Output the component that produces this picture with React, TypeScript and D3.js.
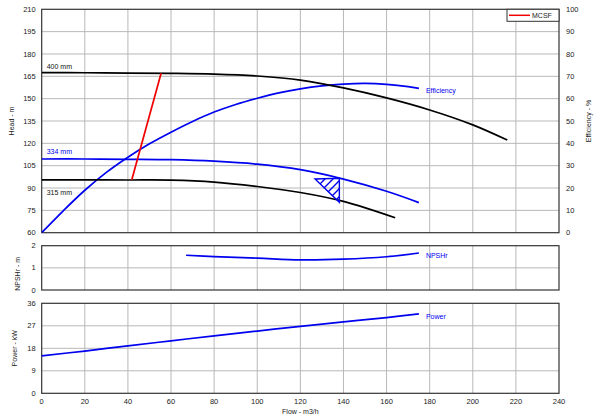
import React from "react";
import * as d3 from "d3";

// ---- Data ----
const flowTicks = [0, 20, 40, 60, 80, 100, 120, 140, 160, 180, 200, 220, 240];
const headTicks = [60, 75, 90, 105, 120, 135, 150, 165, 180, 195, 210];
const effTicks = [0, 10, 20, 30, 40, 50, 60, 70, 80, 90, 100];
const npshTicks = [0, 1, 2];
const powerTicks = [0, 9, 18, 27, 36];

const flow400 = [0, 20, 40, 60, 80, 100, 120, 140, 160, 180, 200, 216];
const head400 = [167.5, 167.4, 167.2, 167, 166.5, 165.2, 162.5, 157.2, 150.5, 142.4, 132.4, 122.2];

const flow334 = [0, 20, 40, 60, 80, 100, 120, 140, 160, 175];
const head334 = [109.5, 109.5, 109.3, 109, 108, 106, 102.3, 96, 87.8, 80.2];

const flow315 = [0, 20, 40, 60, 80, 100, 120, 140, 164];
const head315 = [95.5, 95.5, 95.4, 95.3, 94, 91, 87, 81, 70];

const flowEff = [0, 10, 20, 30, 40, 50, 60, 70, 80, 90, 100, 110, 120, 130, 140, 150, 160, 170, 175];
const effVals = [0, 9.8, 19, 27, 33.8, 39.8, 45, 49.8, 54, 57.4, 60.2, 62.6, 64.4, 65.7, 66.5, 66.8, 66.4, 65.4, 64.6];

const flowMcsf = [41.8, 55.4];
const headMcsf = [95.5, 167];

const flowTri = [126.8, 138.1, 138.1];
const headTri = [96.1, 96.5, 80.4];

const flowNpsh = [67, 80, 100, 120, 140, 160, 175];
const npshVals = [1.57, 1.51, 1.44, 1.36, 1.39, 1.5, 1.67];

const flowPower = [0, 20, 40, 60, 80, 100, 120, 140, 160, 175];
const powerVals = [15, 16.9, 19.0, 21.0, 23.0, 24.9, 26.8, 28.6, 30.3, 31.8];

// ---- Layout ----
const W = 600;
const H = 418;
const L = 41.7;
const R = 559;
const mainTop = 9.3;
const mainBot = 232.7;
const npshTop = 245.7;
const npshBot = 290;
const powTop = 303.3;
const powBot = 393.3;

const FONT = "'Liberation Sans', Arial, Helvetica, sans-serif";
const BLUE = "#0000f0";
const GRID = "#b8b8b8";
const FRAME = "#333";

export default function App() {
  const x = d3.scaleLinear().domain([0, 240]).range([L, R]);
  const yHead = d3.scaleLinear().domain([60, 210]).range([mainBot, mainTop]);
  const yEff = d3.scaleLinear().domain([0, 100]).range([mainBot, mainTop]);
  const yN = d3.scaleLinear().domain([0, 2]).range([npshBot, npshTop]);
  const yP = d3.scaleLinear().domain([0, 36]).range([powBot, powTop]);

  const mk = (fx: number[], fy: number[], ys: d3.ScaleLinear<number, number>, curve: any = d3.curveCatmullRom) =>
    d3
      .line<number>()
      .x((_, i) => x(fx[i]))
      .y((v) => ys(v))
      .curve(curve)(fy) as string;

  const triPath =
    d3
      .line<number>()
      .x((_, i) => x(flowTri[i]))
      .y((v) => yHead(v))(headTri) + "Z";

  const vGrid = (top: number, bot: number) =>
    flowTicks.slice(1, -1).map((t) => (
      <line key={"v" + t + top} x1={x(t)} x2={x(t)} y1={top} y2={bot} stroke={GRID} strokeWidth={1} />
    ));

  const hGrid = (ticks: number[], ys: d3.ScaleLinear<number, number>, k: string) =>
    ticks.slice(1, -1).map((t) => (
      <line key={k + t} x1={L} x2={R} y1={ys(t)} y2={ys(t)} stroke={GRID} strokeWidth={1} />
    ));

  const leftLabels = (ticks: number[], ys: d3.ScaleLinear<number, number>, k: string) =>
    ticks.map((t) => (
      <text key={k + t} x={L - 6} y={ys(t)} dy="0.35em" textAnchor="end" fontSize={7.5}>
        {t}
      </text>
    ));

  const frame = (top: number, bot: number) => (
    <rect x={L} y={top} width={R - L} height={bot - top} fill="none" stroke={FRAME} strokeWidth={1.2} />
  );

  const e400 = { x: x(flow400[0]), y: yHead(head400[0]) };
  const e334 = { x: x(flow334[0]), y: yHead(head334[0]) };
  const e315 = { x: x(flow315[0]), y: yHead(head315[0]) };
  const effEnd = { x: x(flowEff[flowEff.length - 1]), y: yEff(effVals[effVals.length - 1]) };
  const nEnd = { x: x(flowNpsh[flowNpsh.length - 1]), y: yN(npshVals[npshVals.length - 1]) };
  const pEnd = { x: x(flowPower[flowPower.length - 1]), y: yP(powerVals[powerVals.length - 1]) };

  return (
    <svg width={W} height={H} style={{ position: "absolute", left: 0, top: 0 }} fontFamily={FONT} fill="#222">
      <defs>
        <pattern id="hatch" patternUnits="userSpaceOnUse" width={8} height={8}>
          <path d="M0,8 L8,0 M-2,2 L2,-2 M6,10 L10,6" stroke={BLUE} strokeWidth={1.4} />
        </pattern>
        <clipPath id="mainClip">
          <rect x={L} y={mainTop} width={R - L} height={mainBot - mainTop} />
        </clipPath>
      </defs>
      <rect x={0} y={0} width={W} height={H} fill="#fff" />

      {/* Main panel */}
      {vGrid(mainTop, mainBot)}
      {hGrid(headTicks, yHead, "h")}
      {frame(mainTop, mainBot)}
      {leftLabels(headTicks, yHead, "hl")}
      {effTicks.map((t) => (
        <text key={"el" + t} x={R + 7} y={yEff(t)} dy="0.35em" textAnchor="start" fontSize={7.5}>
          {t}
        </text>
      ))}

      <g clipPath="url(#mainClip)" fill="none">
        <path d={mk(flowEff, effVals, yEff)} stroke={BLUE} strokeWidth={1.7} />
        <path d={mk(flow400, head400, yHead)} stroke="#000" strokeWidth={1.7} />
        <path d={mk(flow334, head334, yHead)} stroke={BLUE} strokeWidth={1.7} />
        <path d={mk(flow315, head315, yHead)} stroke="#000" strokeWidth={1.7} />
        <path d={mk(flowMcsf, headMcsf, yHead, d3.curveLinear)} stroke="#f00000" strokeWidth={1.7} />
        <path d={triPath} fill="url(#hatch)" stroke={BLUE} strokeWidth={1.4} />
      </g>

      <text x={e400.x + 5} y={e400.y - 4} fontSize={7} fill="#111">400 mm</text>
      <text x={e334.x + 5} y={e334.y - 5} fontSize={7} fill={BLUE}>334 mm</text>
      <text x={e315.x + 5} y={e315.y + 15} fontSize={7} fill="#111">315 mm</text>
      <text x={effEnd.x + 7} y={effEnd.y + 5} fontSize={7} fill={BLUE}>Efficiency</text>

      {/* Legend */}
      <rect x={507} y={mainTop} width={R - 507} height={12} fill="#fff" stroke={FRAME} strokeWidth={1} />
      <line x1={509} x2={530} y1={mainTop + 6} y2={mainTop + 6} stroke="#f00000" strokeWidth={1.5} />
      <text x={532} y={mainTop + 6} dy="0.35em" fontSize={7}>MCSF</text>

      <text transform={`translate(12,${(mainTop + mainBot) / 2}) rotate(-90)`} textAnchor="middle" dy="0.35em" fontSize={7}>
        Head - m
      </text>
      <text transform={`translate(589,${(mainTop + mainBot) / 2}) rotate(-90)`} textAnchor="middle" dy="0.35em" fontSize={7}>
        Efficiency - %
      </text>

      {/* NPSH panel */}
      {vGrid(npshTop, npshBot)}
      {hGrid(npshTicks, yN, "n")}
      {frame(npshTop, npshBot)}
      {leftLabels(npshTicks, yN, "nl")}
      <path d={mk(flowNpsh, npshVals, yN)} fill="none" stroke={BLUE} strokeWidth={1.7} />
      <text x={nEnd.x + 7} y={nEnd.y + 5} fontSize={7} fill={BLUE}>NPSHr</text>
      <text transform={`translate(18,${(npshTop + npshBot) / 2 + 6}) rotate(-90)`} textAnchor="middle" dy="0.35em" fontSize={7}>
        NPSHr - m
      </text>

      {/* Power panel */}
      {vGrid(powTop, powBot)}
      {hGrid(powerTicks, yP, "p")}
      {frame(powTop, powBot)}
      {leftLabels(powerTicks, yP, "pl")}
      <path d={mk(flowPower, powerVals, yP)} fill="none" stroke={BLUE} strokeWidth={1.7} />
      <text x={pEnd.x + 7} y={pEnd.y + 5} fontSize={7} fill={BLUE}>Power</text>
      <text transform={`translate(15,${(powTop + powBot) / 2}) rotate(-90)`} textAnchor="middle" dy="0.35em" fontSize={7}>
        Power - kW
      </text>

      {/* X axis */}
      {flowTicks.map((t) => (
        <text key={"xl" + t} x={x(t)} y={401} dy="0.35em" textAnchor="middle" fontSize={7.5}>
          {t}
        </text>
      ))}
      <text x={(L + R) / 2} y={411.5} dy="0.35em" textAnchor="middle" fontSize={7}>
        Flow - m3/h
      </text>
    </svg>
  );
}
